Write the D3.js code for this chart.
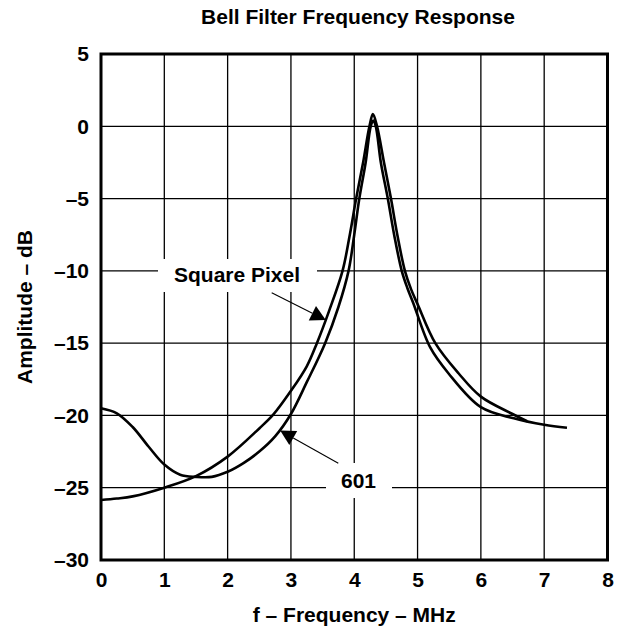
<!DOCTYPE html>
<html>
<head>
<meta charset="utf-8">
<script src="https://cdn.jsdelivr.net/npm/d3@7"></script>
<style>
  body { margin: 0; background: #fff; }
  text { font-family: "Liberation Sans", Arial, sans-serif; font-weight: bold; fill: #000; }
</style>
</head>
<body>
<div id="chart"></div>
<script>
// frequency (MHz) / amplitude (dB)
var squareFreq = [0, 0.25, 0.5, 1, 1.5, 2, 2.5, 2.72, 3, 3.25, 3.41, 3.6, 3.815, 3.93, 4.03, 4.14, 4.24, 4.295, 4.36, 4.47, 4.58, 4.68, 4.8, 4.9, 5.0, 5.28, 5.65, 6.0, 6.5, 6.73]
var squareAmp  = [-25.85, -25.75, -25.6, -25.0, -24.2, -22.85, -20.9, -19.95, -18.3, -16.6, -15.0, -12.8, -10.0, -7.5, -5.0, -2.5, 0, 0.85, 0, -2.5, -5.0, -7.5, -10.0, -11.3, -12.3, -15.0, -17.1, -18.7, -19.9, -20.4]

var freq601 = [0, 0.25, 0.5, 0.75, 1, 1.25, 1.5, 1.75, 2, 2.25, 2.5, 2.75, 3, 3.25, 3.54, 3.75, 3.91, 4.0, 4.08, 4.18, 4.26, 4.3, 4.34, 4.42, 4.53, 4.63, 4.75, 4.84, 4.93, 5.2, 5.49, 6.0, 6.52, 7.0, 7.36]
var amp601  = [-19.5, -19.85, -20.8, -22.15, -23.4, -24.1, -24.25, -24.25, -23.9, -23.3, -22.5, -21.45, -19.9, -17.7, -15.0, -12.5, -10.0, -7.5, -5.0, -2.5, 0, 0.4, 0, -2.5, -5.0, -7.5, -10.0, -11.2, -12.2, -15.3, -17.1, -19.43, -20.2, -20.65, -20.85]

var xTicks = [0, 1, 2, 3, 4, 5, 6, 7, 8]
var yTicks = [5, 0, -5, -10, -15, -20, -25, -30]

var width = 626, height = 632
var margin = {left: 101, right: 607.5, top: 54, bottom: 560}
var fontSize = 21

var svg = d3.select("#chart").append("svg")
    .attr("width", width)
    .attr("height", height)

var x = d3.scaleLinear().domain([0, 8]).range([margin.left, margin.right])
var y = d3.scaleLinear().domain([-30, 5]).range([margin.bottom, margin.top])

function fmt(d) { return d < 0 ? "\u2013" + Math.abs(d) : String(d) }

// grid
var grid = svg.append("g").attr("stroke", "#000").attr("stroke-width", 1.3)
grid.selectAll(".vg").data(xTicks).enter().append("line")
    .attr("x1", d => x(d)).attr("x2", d => x(d))
    .attr("y1", margin.top).attr("y2", margin.bottom)
grid.selectAll(".hg").data(yTicks).enter().append("line")
    .attr("x1", margin.left).attr("x2", margin.right)
    .attr("y1", d => y(d)).attr("y2", d => y(d))

// axes (labels only, the frame is drawn below)
svg.append("g")
    .attr("transform", "translate(0," + margin.bottom + ")")
    .call(d3.axisBottom(x).tickValues(xTicks).tickSize(0).tickPadding(12).tickFormat(fmt))
svg.append("g")
    .attr("transform", "translate(" + margin.left + ",0)")
    .call(d3.axisLeft(y).tickValues(yTicks).tickSize(0).tickPadding(12).tickFormat(fmt))
svg.selectAll(".domain").remove()
svg.selectAll(".tick text")
    .attr("font-size", fontSize)
    .attr("font-family", "'Liberation Sans', Arial, sans-serif")
    .attr("font-weight", "bold")
    .attr("fill", "#000")

// annotation boxes knock out the grid
function labelBox(x0, y0, w, h) {
  svg.append("rect").attr("x", x0).attr("y", y0).attr("width", w).attr("height", h).attr("fill", "#fff")
}
labelBox(158, 259, 159, 33)
labelBox(326, 463, 66, 35)

// curves
var line = d3.line()
    .x(d => x(d[0]))
    .y(d => y(d[1]))
    .curve(d3.curveCatmullRom.alpha(0.5))

var series = [
  { name: "Square Pixel", pts: d3.zip(squareFreq, squareAmp) },
  { name: "601", pts: d3.zip(freq601, amp601) }
]
svg.append("g").selectAll("path").data(series).enter().append("path")
    .attr("d", d => line(d.pts))
    .attr("fill", "none")
    .attr("stroke", "#000")
    .attr("stroke-width", 2.6)
    .attr("stroke-linejoin", "round")

// arrows
function arrow(x1, y1, x2, y2) {
  var a = Math.atan2(y2 - y1, x2 - x1)
  var L = 15, W = 8
  var bx = x2 - L * Math.cos(a), by = y2 - L * Math.sin(a)
  svg.append("line").attr("x1", x1).attr("y1", y1).attr("x2", bx).attr("y2", by)
      .attr("stroke", "#000").attr("stroke-width", 1.1)
  svg.append("path")
      .attr("d", "M" + x2 + "," + y2 +
        "L" + (bx - W * Math.sin(a)) + "," + (by + W * Math.cos(a)) +
        "L" + (bx + W * Math.sin(a)) + "," + (by - W * Math.cos(a)) + "Z")
      .attr("fill", "#000")
}
arrow(271.7, 292.7, x(3.55), y(-13.4))
arrow(338.3, 463.3, x(2.83), y(-21.05))

svg.append("text").attr("x", 237).attr("y", 282).attr("text-anchor", "middle").attr("font-size", fontSize).text("Square Pixel")
svg.append("text").attr("x", 358.5).attr("y", 488).attr("text-anchor", "middle").attr("font-size", fontSize).text("601")

// frame
svg.append("rect")
    .attr("x", margin.left).attr("y", margin.top)
    .attr("width", margin.right - margin.left).attr("height", margin.bottom - margin.top)
    .attr("fill", "none").attr("stroke", "#000").attr("stroke-width", 3)

// titles
svg.append("text").attr("x", 358).attr("y", 24).attr("text-anchor", "middle")
    .attr("font-size", fontSize).text("Bell Filter Frequency Response")
svg.append("text").attr("x", (margin.left + margin.right) / 2).attr("y", 622).attr("text-anchor", "middle")
    .attr("font-size", fontSize).text("f \u2013 Frequency \u2013 MHz")
svg.append("text").attr("transform", "translate(32," + (margin.top + margin.bottom) / 2 + ") rotate(-90)")
    .attr("text-anchor", "middle").attr("font-size", fontSize).text("Amplitude \u2013 dB")
</script>
</body>
</html>
